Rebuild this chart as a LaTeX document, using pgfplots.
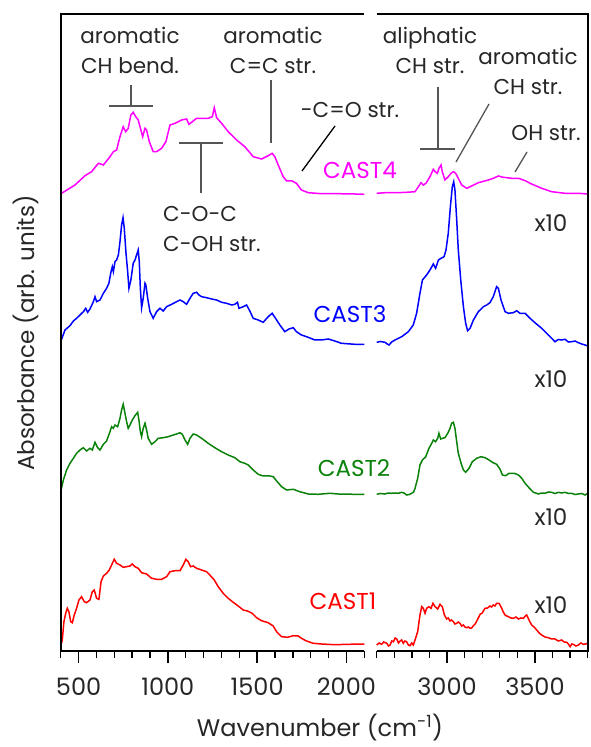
\documentclass[border=0pt]{standalone}
\usepackage{fontspec}
\setmainfont{Poppins}
\usepackage{pgfplots}
\usepackage{pgfplotstable}
\pgfplotsset{compat=1.18}

\definecolor{cmag}{RGB}{255,0,255}
\definecolor{cblue}{RGB}{0,0,255}
\definecolor{cgreen}{RGB}{10,130,10}
\definecolor{cred}{RGB}{255,0,0}
\definecolor{anno}{RGB}{85,85,85}

% y values are offset absorbance (arb. units), spectra stacked
\pgfplotstableread{
x y
400 456
405 457.7
480 466
536 475.3
573 479.3
611 487.7
639 486
676 494.3
695 499.3
713 501
732 514.3
750 524.3
764 519.3
778 522.7
793 536
806 538.7
820 534.3
834 531
849 521
859 514.3
872 522.7
881 521
896 509.3
918 499.3
937 499.3
965 502.7
989 509.3
1012 526
1040 527.7
1077 531
1105 532
1118 526.7
1133 528.7
1161 532.7
1189 532.7
1226 532.7
1249 534.3
1260 543.3
1273 533.3
1301 527.7
1338 519.3
1385 511
1431 504.3
1478 494.3
1525 492
1562 495.3
1584 497.7
1599 494.3
1618 486
1646 474.3
1665 470
1696 470
1720 467.7
1748 461
1786 458.3
1860 457.3
1954 457.3
2047 457
2100 456.7
}\magL

\pgfplotstableread{
x y
2600 457.7
2650 458.3
2723 458.3
2780 458.8
2818 459.3
2837 464.3
2852 468.3
2865 466
2880 467.7
2903 474.3
2922 481.7
2932 479.3
2945 477.7
2954 482.7
2966 486
2973 479.3
2988 471
3007 474.3
3023 477.7
3036 479.3
3049 477.7
3064 472.7
3083 466
3112 462.7
3140 465
3178 468.3
3235 471
3263 472.7
3292 475
3320 473.7
3368 472.7
3406 472.7
3444 470.3
3481 467
3538 462.7
3595 459.3
3671 457.7
3747 457.7
3800 457
}\magR

\pgfplotstableread{
x y
400 309.3
424 321
452 325.3
471 330
489 332.7
508 336
527 339.3
540 342.7
551 338.7
564 342
583 349.3
592 354.3
601 349.3
620 351
639 357.7
657 362.7
670 367.7
680 377.7
689 384.3
695 379.3
704 389.3
713 391
723 396
732 409.3
741 426
749 433.3
756 422.7
765 399.3
775 379.3
782 362.7
793 371
806 387.7
816 391
825 396
834 401
840 389.3
846 362.7
853 343.3
862 352.7
872 367.7
877 366
887 352.7
900 339.3
918 332.7
937 339.3
956 342.7
974 340
993 344.3
1021 346.7
1049 349.3
1068 351
1086 349.3
1105 346.7
1124 352.7
1142 357.7
1161 358.7
1174 356
1189 354.3
1217 353.3
1245 352
1273 351
1301 348.7
1329 347.7
1357 346
1375 346.7
1390 348.7
1398 342.7
1422 344.3
1441 346
1459 340
1478 332.7
1506 331
1534 328.7
1562 334.3
1584 337.7
1603 332.7
1627 326
1655 319.3
1678 322
1702 323.3
1720 319.3
1748 316
1786 313.7
1823 311
1860 311
1898 312
1935 310
1972 307.7
2047 306.7
2100 306.7
}\bluL

\pgfplotstableread{
x y
2600 308.7
2620 309.5
2647 308.7
2660 307
2670 306
2685 309
2704 311
2742 314.3
2780 319.3
2808 326
2827 337.7
2846 357.7
2860 371
2884 376
2903 381
2922 387
2935 382.7
2951 391
2966 392.7
2983 394.3
2994 401
3007 417.7
3019 444.3
3030 464.3
3038 469.3
3045 461
3055 431
3064 401
3078 371
3093 344.3
3106 327.7
3117 320.3
3131 322.7
3150 331
3178 339.3
3207 344.3
3226 346
3244 348.3
3263 354.3
3282 364.3
3292 362.7
3307 351
3330 339.3
3349 337.7
3377 338.3
3396 340.3
3415 337.7
3444 337.7
3472 332.7
3500 328.3
3538 322.7
3576 316
3614 309.3
3633 311.5
3652 311
3671 311.7
3690 309
3709 309.3
3728 310
3747 308.3
3766 307
3785 306
3800 305
}\bluR

\pgfplotstableread{
x y
400 159.3
415 171
433 181
452 187.7
471 192.7
489 197.7
508 201
527 203.3
545 200
564 202.7
577 201
592 208.7
607 203.3
620 201
639 206.7
657 210
676 219.3
685 224.3
695 222.7
704 226
719 224.3
732 232.7
741 241
750 246.7
760 237.7
769 229.3
778 222.7
788 226
801 231
816 235.3
831 238.7
838 231
846 219.3
853 214.3
862 222.7
872 227.7
881 221
890 212.7
909 206.7
928 209.3
946 212.7
974 213.3
1002 214.3
1030 216
1049 217
1068 218.3
1081 216.7
1096 211
1111 206.7
1124 212.7
1142 217
1161 216
1189 212.7
1226 207.7
1263 203.3
1301 199.3
1338 196
1375 193.3
1403 189.3
1431 187.7
1450 186
1478 181
1506 176.7
1534 175
1571 175
1590 174.3
1609 170
1637 164.3
1665 161
1702 161.7
1739 159.3
1786 157
1842 156.7
1907 157.7
1954 157
2047 156.7
2100 156.7
}\grnL

\pgfplotstableread{
x y
2600 156.7
2620 157.5
2647 157
2665 158
2685 157.7
2705 158
2723 157.7
2742 158.7
2755 158
2770 156
2785 156.5
2799 157.7
2810 159
2818 162.7
2833 172.7
2846 186
2860 191
2879 194.3
2897 202.7
2913 207.7
2922 211
2935 209.3
2947 212.7
2954 217.7
2964 212
2975 212.7
2988 213.3
3004 217.7
3017 222.7
3026 227.7
3036 228.7
3045 222.7
3055 209.3
3064 197.7
3080 187.7
3093 181
3106 178.7
3125 182.7
3144 189.3
3169 192.7
3193 194.3
3216 193.3
3239 191
3258 188.7
3282 186.7
3301 182
3315 176
3334 175.3
3353 177.7
3383 177.7
3406 176
3425 172.7
3444 167.7
3466 163.3
3491 158.7
3505 158
3519 157
3538 158
3557 157.7
3576 159
3595 158.7
3614 157.5
3633 158.7
3652 158
3671 158.7
3690 157.5
3709 157.7
3728 156.5
3747 157
3766 157.5
3785 156
3800 157.7
}\grnR

\pgfplotstableread{
x y
400 5
409 11
418 29.3
428 37.7
437 42.7
446 39.3
456 29.3
465 28.3
476 36
489 42.7
502 51
517 54.3
532 49.3
545 48.3
564 51
577 59.3
588 61
601 52.7
614 51.7
626 69.3
639 75
657 77.7
672 81
685 86
700 91.7
713 87.7
732 86
750 83.7
769 84.3
788 85
801 87
816 84.3
834 82.7
853 78.3
881 77
909 72.7
937 71.7
965 71.7
993 74.3
1012 79.3
1040 80.3
1068 80.3
1086 86
1101 91.7
1114 89.3
1127 84.3
1142 85
1161 82.7
1189 81
1217 79.3
1235 76
1260 71
1282 64.3
1310 57.7
1338 52.7
1366 48.7
1394 45
1422 41
1446 40
1472 37.7
1497 33.3
1525 30.3
1562 28.3
1590 25
1609 19.3
1637 14.3
1670 13.7
1702 15.3
1730 15
1748 12.7
1776 10
1814 7.7
1860 7
1935 6.3
2010 6.7
2100 7
}\redL

\pgfplotstableread{
x y
2600 6
2614 8
2628 6.7
2640 9
2657 7.7
2667 5
2676 6
2686 10
2695 9.3
2705 13
2714 12
2724 8
2733 10
2742 11
2751 7.7
2760 10
2770 9.3
2780 6
2789 5.3
2799 8
2808 6
2818 11
2833 19.3
2846 36
2856 44.3
2865 42.7
2875 37.7
2884 42.7
2897 44.3
2909 42.7
2920 47.7
2932 44.3
2947 42
2960 46.7
2973 44.3
2985 36
2998 32
3007 33
3017 30
3026 31
3036 29.3
3045 27
3055 27.7
3064 29
3074 27.7
3083 25
3093 26
3102 24
3112 23.3
3122 24
3131 22.7
3140 23
3150 25.3
3160 27
3169 30
3178 33
3188 36.7
3200 38
3216 42.7
3230 43
3244 45
3253 44
3263 46
3272 45
3282 47.7
3296 47.7
3311 42.7
3320 39
3330 36
3340 35
3349 34.3
3363 33
3377 32.7
3392 34
3406 32
3420 33
3434 32.7
3445 35
3453 36
3466 31
3481 26
3495 24
3510 21
3524 18
3538 16
3557 14
3576 13.3
3595 12
3614 12
3633 10
3652 11
3666 9
3681 8.7
3690 7
3700 4.3
3709 7
3718 6.7
3733 5
3747 6
3761 8
3775 6.7
3790 7
3800 8
}\redR

\pgfplotsset{
  panel/.style={
    scale only axis,
    height=637pt,
    ymin=0, ymax=637,
    ytick=\empty,
    axis line style={draw=none},
    xtick pos=bottom,
    tick align=outside,
    major tick length=12pt,
    minor tick length=7pt,
    every tick/.style={black, line width=1.3pt},
    ticklabel style={font=\fontsize{24}{28}\selectfont, text=black!85},
    xticklabel style={yshift=-11pt},
    /pgf/number format/assume math mode=true,
    /pgf/number format/1000 sep={},
    clip=false,
    every axis plot/.append style={line width=1.5pt, no markers},
  },
}

\begin{document}
\begin{tikzpicture}
\path[use as bounding box] (0,0) rectangle (590pt,747pt);

\begin{axis}[panel, at={(60.7pt,96pt)}, width=303.6pt,
  xmin=400, xmax=2100,
  xtick={500,1000,1500,2000},
  minor xtick={400,600,700,800,900,1100,1200,1300,1400,1600,1700,1800,1900,2100}]
\addplot[cred] table {\redL};
\addplot[cgreen] table {\grnL};
\addplot[cblue] table {\bluL};
\addplot[cmag] table {\magL};
\draw[line width=1.8pt, line join=miter] (rel axis cs:1,1) -- (rel axis cs:0,1) -- (rel axis cs:0,0) -- (rel axis cs:1,0);
\end{axis}

\begin{axis}[panel, at={(376.7pt,96pt)}, width=211pt,
  xmin=2600, xmax=3800,
  xtick={3000,3500},
  minor xtick={2600,2700,2800,2900,3100,3200,3300,3400,3600,3700,3800}]
\addplot[cred] table {\redR};
\addplot[cgreen] table {\grnR};
\addplot[cblue] table {\bluR};
\addplot[cmag] table {\magR};
\draw[line width=1.8pt, line join=miter] (rel axis cs:0,1) -- (rel axis cs:1,1) -- (rel axis cs:1,0) -- (rel axis cs:0,0);
\end{axis}

% labels and annotations, positions in picture pixels from the top left
\begin{scope}[x=1pt, y=-1pt, yshift=747pt,
  every node/.style={font=\fontsize{21.5}{30}\selectfont, text=black!85, inner sep=0pt},
  big/.style={font=\fontsize{23}{28}\selectfont},
  ln/.style={anno, line width=1.3pt}]
\node[font=\fontsize{24}{28}\selectfont, anchor=base] at (320,737) {Wavenumber (cm\textsuperscript{-1})};
\node[font=\fontsize{23}{28}\selectfont, rotate=90] at (26,333) {Absorbance (arb. units)};

\node[align=center] at (130,50) {aromatic\\CH bend.};
\draw[ln] (109,106) -- (153,106) (131,85) -- (131,106);
\node[align=center] at (273,50) {aromatic\\C=C str.};
\draw[ln] (271,80) -- (271,143);
\node at (350,110) {-C=O str.};
\draw[ln, black] (335,126) -- (302,171);
\draw[ln] (179,143) -- (223,143) (201,143) -- (201,193);
\node[align=left, anchor=west] at (163,229) {C-O-C\\C-OH str.};

\node[align=center] at (430,50) {aliphatic\\CH str.};
\draw[ln] (438,87) -- (438,149) (420,149) -- (455,149);
\node[align=center] at (528,71) {aromatic\\CH str.};
\draw[ln] (489,104) -- (456,162);
\node at (546,133) {OH str.};
\draw[ln] (527,152) -- (515,172);

\node[big] at (551,223) {x10};
\node[big] at (551,379) {x10};
\node[big] at (551,517) {x10};
\node[big] at (551,605) {x10};

\node[big, text=cmag] at (360,170) {CAST4};
\node[big, text=cblue] at (350,314) {CAST3};
\node[big, text=cgreen] at (354,468) {CAST2};
\node[big, text=cred] at (343,601) {CAST1};
\end{scope}
\end{tikzpicture}
\end{document}
